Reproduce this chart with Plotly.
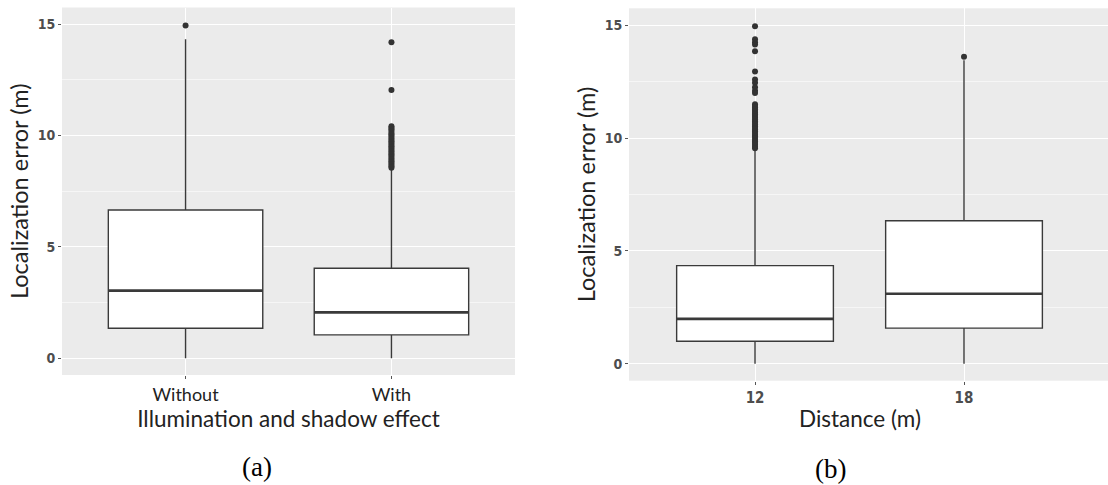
import plotly.graph_objects as go

# ---------------- data ----------------
cats_a = ["Without", "With"]
q1_a = [1.35, 1.05]
med_a = [3.04, 2.06]
q3_a = [6.66, 4.04]
lo_a = [0.0, 0.0]
hi_a = [14.32, 8.45]
out_without = [14.94]
out_with = [14.19, 12.05, 10.42, 10.35, 10.28, 10.2, 10.12, 10.05, 9.98, 9.9, 9.82,
            9.75, 9.68, 9.6, 9.52, 9.45, 9.38, 9.3, 9.22, 9.15, 9.08, 9.0, 8.92,
            8.85, 8.78, 8.7, 8.62, 8.56]

cats_b = ["12", "18"]
q1_b = [1.0, 1.58]
med_b = [1.99, 3.10]
q3_b = [4.35, 6.34]
lo_b = [0.0, 0.0]
hi_b = [9.45, 13.45]
out_12 = [14.96, 14.38, 14.25, 14.15, 13.85, 12.95, 12.6, 12.45, 12.25, 12.1, 12.0,
          11.5, 11.42, 11.35, 11.28, 11.2, 11.12, 11.05, 10.98, 10.9, 10.82, 10.75,
          10.68, 10.6, 10.52, 10.45, 10.38, 10.3, 10.22, 10.15, 10.08, 10.0, 9.92,
          9.85, 9.78, 9.7, 9.62, 9.55]
out_18 = [13.6]

y_ticks = [0, 5, 10, 15]

# ---------------- style ----------------
BG = "#EBEBEB"
LINE = "#3a3a3a"
BOXW = 0.75

fig = go.Figure()

def add_panel(cats, q1, med, q3, lo, hi, outs, xa, ya):
    for i in range(len(cats)):
        fig.add_trace(go.Box(
            x=[i], q1=[q1[i]], median=[med[i]], q3=[q3[i]],
            lowerfence=[lo[i]], upperfence=[hi[i]],
            width=BOXW, fillcolor="white", whiskerwidth=0,
            line=dict(color=LINE, width=1.4),
            boxpoints=False, xaxis=xa, yaxis=ya, showlegend=False,
            hoverinfo="skip"))
        fig.add_trace(go.Scatter(
            x=[i - BOXW / 2, i + BOXW / 2], y=[med[i], med[i]],
            mode="lines", line=dict(color=LINE, width=2.6),
            xaxis=xa, yaxis=ya, showlegend=False, hoverinfo="skip"))
        fig.add_trace(go.Scatter(
            x=[i] * len(outs[i]), y=outs[i], mode="markers",
            marker=dict(color="#333333", size=6),
            xaxis=xa, yaxis=ya, showlegend=False, hoverinfo="skip"))

add_panel(cats_a, q1_a, med_a, q3_a, lo_a, hi_a, [out_without, out_with], "x", "y")
add_panel(cats_b, q1_b, med_b, q3_b, lo_b, hi_b, [out_12, out_18], "x2", "y2")

NARROW = "DejaVu Sans Condensed, Liberation Sans Narrow, Roboto, sans-serif"
ytick_font = dict(family=NARROW, size=14, color="#4d4d4d", weight="bold")
title_font = dict(family="Lato", size=22.5, color="#222222")
ytitle_font = dict(family="Lato", size=23.5, color="#222222")
label_font = dict(family="Liberation Serif", size=27, color="black")

def yaxis(domain, anchor):
    return dict(
        domain=domain, anchor=anchor, range=[-0.75, 15.75],
        tickvals=y_ticks, ticktext=[str(v) for v in y_ticks],
        ticks="outside", ticklen=3, tickcolor="#555555", tickwidth=1,
        tickfont=ytick_font, showgrid=True, gridcolor="white", gridwidth=1.3,
        minor=dict(dtick=2.5, tick0=0, showgrid=True, gridcolor="#F6F6F6", gridwidth=0.7),
        zeroline=False, showline=False,
        title=dict(text="Localization error (m)", font=ytitle_font, standoff=2))

fig.update_layout(
    width=1108, height=485, margin=dict(l=0, r=0, t=0, b=0),
    paper_bgcolor="white", plot_bgcolor=BG,
    xaxis=dict(domain=[62 / 1108, 515 / 1108], anchor="y", range=[-0.6, 1.6],
               tickvals=[0, 1], ticktext=cats_a, ticks="outside", ticklen=3,
               tickcolor="#555555", tickfont=dict(family="Lato", size=18, color="#222222"),
               showgrid=True, gridcolor="white", gridwidth=1.3, zeroline=False,
               title=dict(text="Illumination and shadow effect", font=title_font, standoff=4)),
    yaxis=yaxis([1 - 375 / 485, 1 - 7.5 / 485], "x"),
    xaxis2=dict(domain=[629 / 1108, 1.0], anchor="y2", range=[-0.603, 1.689],
                tickvals=[0, 1], ticktext=cats_b, ticks="outside", ticklen=3,
                tickcolor="#555555", tickfont=dict(family=NARROW, size=15,
                                                   color="#4d4d4d", weight="bold"),
                showgrid=True, gridcolor="white", gridwidth=1.3, zeroline=False),
    yaxis2=yaxis([1 - 380.7 / 485, 1 - 8.3 / 485], "x2"),
    annotations=[
        dict(text="Distance (m)", x=860 / 1108, y=1 - 418 / 485, xref="paper", yref="paper",
             xanchor="center", yanchor="middle", showarrow=False, font=title_font),
        dict(text="(a)", x=257 / 1108, y=1 - 467 / 485, xref="paper", yref="paper",
             xanchor="center", yanchor="middle", showarrow=False, font=label_font),
        dict(text="(b)", x=830 / 1108, y=1 - 469 / 485, xref="paper", yref="paper",
             xanchor="center", yanchor="middle", showarrow=False, font=label_font),
    ],
)

fig.write_html("out.html")
